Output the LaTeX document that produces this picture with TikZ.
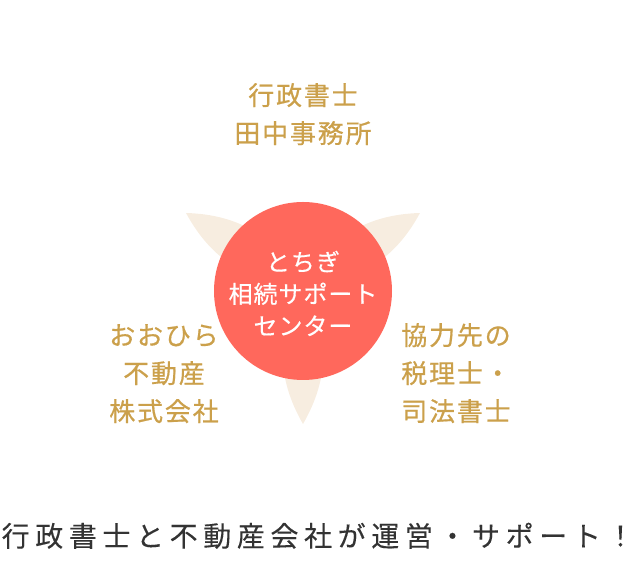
\documentclass[tikz,border=0pt]{standalone}
\usepackage{fontspec}
\newfontfamily\jpgold{Noto Sans CJK JP}[LetterSpace=7,FakeBold=0.6]
\newfontfamily\jpwhite{Noto Sans CJK JP}[LetterSpace=4,FakeBold=0.4]
\newfontfamily\jpdark{Noto Sans CJK JP}[LetterSpace=20,FakeBold=0.15]
\definecolor{goldc}{RGB}{203,160,75}
\definecolor{petalc}{RGB}{247,237,224}
\definecolor{circc}{RGB}{255,104,92}
\definecolor{darkc}{RGB}{51,51,51}
\begin{document}
\begin{tikzpicture}[x=1pt,y=1pt,
  goldtext/.style={text=goldc, font=\jpgold\fontsize{26}{30}\selectfont, anchor=base, inner sep=0pt},
  hubtext/.style={text=white, font=\jpwhite\fontsize{24}{28}\selectfont, anchor=base, inner sep=0pt},
  petal/.style={fill=petalc, draw=none},
  hub/.style={circle, fill=circc, draw=none, minimum size=178pt, inner sep=0pt},
  caption/.style={text=darkc, font=\jpdark\fontsize{28}{32}\selectfont, anchor=base west, inner sep=0pt}]
\useasboundingbox (0,0) rectangle (638,580);
\coordinate (P) at (303,295);
\coordinate (tl) at (186,367);
\coordinate (tr) at (420,367);
\coordinate (tb) at (303,156);
\foreach \t in {tl,tr,tb}
  \path[petal] (P) to[bend left=30] (\t) to[bend left=30] (P);
\node[hub] (center) at (303,289) {};
\node[hubtext] (c1) at (303,309) {とちぎ};
\node[hubtext] (c2) at (303,277) {相続サポート};
\node[hubtext] (c3) at (303,245) {センター};
\node[goldtext] (g1) at (303,475) {行政書士};
\node[goldtext] (g2) at (303,437) {田中事務所};
\node[goldtext] (l1) at (164,235) {おおひら};
\node[goldtext] (l2) at (164,197) {不動産};
\node[goldtext] (l3) at (164,159) {株式会社};
\node[goldtext] (r1) at (456,235) {協力先の};
\node[goldtext] (r2) at (456,197) {税理士・};
\node[goldtext] (r3) at (456,159) {司法書士};
\node[caption] (cap) at (1.5,33.5) {行政書士と不動産会社が運営・サポート！};
\end{tikzpicture}
\end{document}
